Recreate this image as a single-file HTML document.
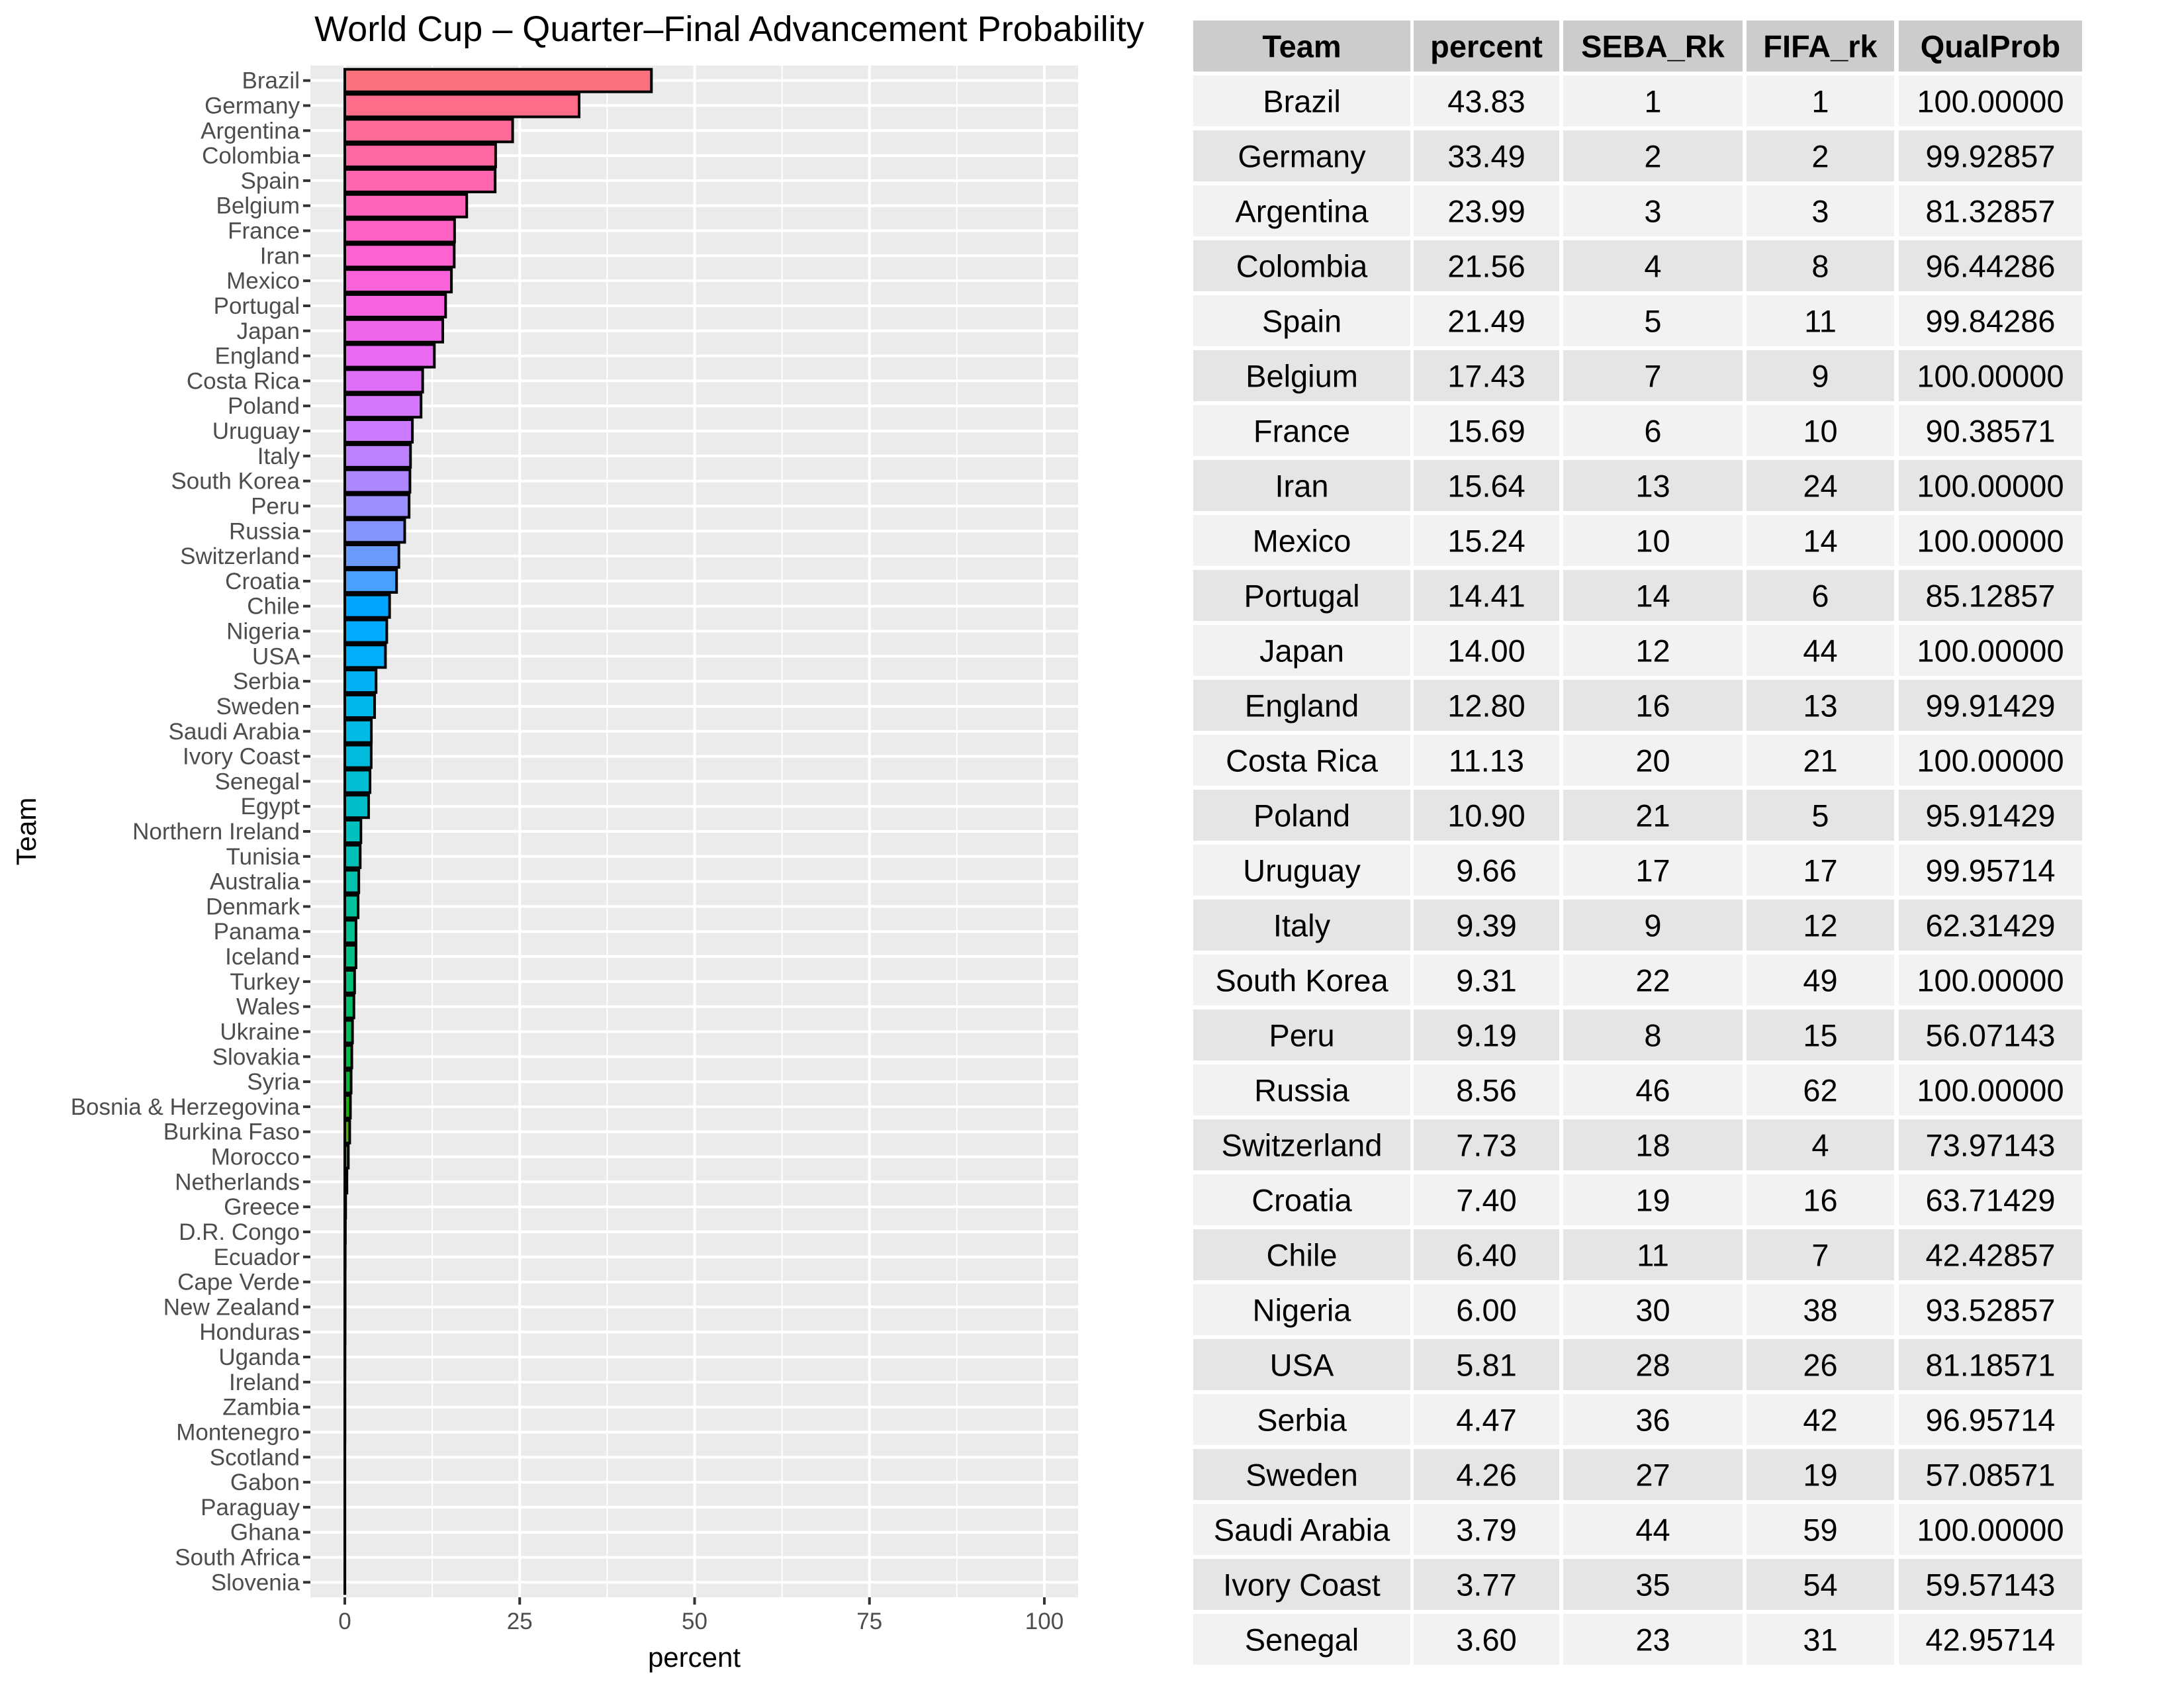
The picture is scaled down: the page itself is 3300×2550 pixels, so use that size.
<!DOCTYPE html>
<html><head><meta charset="utf-8"><style>
body{margin:0;background:#fff;}
svg{display:block;font-family:"Liberation Sans",sans-serif;}
</style></head><body>
<svg id="c" width="3300" height="2550" viewBox="0 0 3300 2550"></svg>
<script>
const teams=["Brazil","Germany","Argentina","Colombia","Spain","Belgium","France","Iran","Mexico","Portugal","Japan","England","Costa Rica","Poland","Uruguay","Italy","South Korea","Peru","Russia","Switzerland","Croatia","Chile","Nigeria","USA","Serbia","Sweden","Saudi Arabia","Ivory Coast","Senegal","Egypt","Northern Ireland","Tunisia","Australia","Denmark","Panama","Iceland","Turkey","Wales","Ukraine","Slovakia","Syria","Bosnia & Herzegovina","Burkina Faso","Morocco","Netherlands","Greece","D.R. Congo","Ecuador","Cape Verde","New Zealand","Honduras","Uganda","Ireland","Zambia","Montenegro","Scotland","Gabon","Paraguay","Ghana","South Africa","Slovenia"];
const percent=[43.83,33.49,23.99,21.56,21.49,17.43,15.69,15.64,15.24,14.41,14.00,12.80,11.13,10.90,9.66,9.39,9.31,9.19,8.56,7.73,7.40,6.40,6.00,5.81,4.47,4.26,3.79,3.77,3.60,3.4,2.3,2.2,2.0,1.9,1.6,1.6,1.4,1.3,1.1,1.0,0.9,0.8,0.7,0.5,0.3,0.12,0.08,0.06,0.05,0.05,0.04,0.03,0.02,0.02,0.02,0.01,0.01,0.01,0.01,0.01,0.01];
const sebaRk=[1,2,3,4,5,7,6,13,10,14,12,16,20,21,17,9,22,8,46,18,19,11,30,28,36,27,44,35,23];
const fifaRk=[1,2,3,8,11,9,10,24,14,6,44,13,21,5,17,12,49,15,62,4,16,7,38,26,42,19,59,54,31];
const qualProb=["100.00000","99.92857","81.32857","96.44286","99.84286","100.00000","90.38571","100.00000","100.00000","85.12857","100.00000","99.91429","100.00000","95.91429","99.95714","62.31429","100.00000","56.07143","100.00000","73.97143","63.71429","42.42857","93.52857","81.18571","96.95714","57.08571","100.00000","59.57143","42.95714"];
const xTicks=[0,25,50,75,100];

const NS="http://www.w3.org/2000/svg";
const svg=document.getElementById('c');
function mk(tag,attrs,parent,text){const e=document.createElementNS(NS,tag);for(const k in attrs)e.setAttribute(k,attrs[k]);if(text!==undefined)e.textContent=text;(parent||svg).appendChild(e);return e;}

function hcl(h,c,l){const hr=h*Math.PI/180;const U=c*Math.cos(hr),V=c*Math.sin(hr);
const Xn=95.047,Yn=100,Zn=108.883;const un=4*Xn/(Xn+15*Yn+3*Zn),vn=9*Yn/(Xn+15*Yn+3*Zn);
const Y=l>8?Yn*Math.pow((l+16)/116,3):Yn*l/903.3;const u=U/(13*l)+un,v=V/(13*l)+vn;
const X=9*Y*u/(4*v),Z=-X/3-5*Y+3*Y/v;const x=X/100,y=Y/100,z=Z/100;
let r=3.2404542*x-1.5371385*y-0.4985314*z,g=-0.9692660*x+1.8760108*y+0.0415560*z,b=0.0556434*x-0.2040259*y+1.0572252*z;
const f=t=>{t=t<=0.0031308?12.92*t:1.055*Math.pow(t,1/2.4)-0.055;return Math.round(Math.max(0,Math.min(1,t))*255);};
return `rgb(${f(r)},${f(g)},${f(b)})`;}

const PL=469,PR=1629,PT=99,PB=2413;
const X0=521,XS=(1578-521)/100;
const xp=v=>X0+v*XS;
const n=teams.length;const step=(PB-PT)/(n-1+1.2);
const yc=i=>PT+0.6*step+i*step;

mk('text',{x:1102,y:62,'font-size':54,'text-anchor':'middle',fill:'#000',},svg,'World Cup \u2013 Quarter\u2013Final Advancement Probability');
mk('rect',{x:PL,y:PT,width:PR-PL,height:PB-PT,fill:'#ebebeb',});
const grid=mk('g',{});
for(let i=0;i<xTicks.length-1;i++){const m=(xTicks[i]+xTicks[i+1])/2;mk('line',{x1:xp(m),x2:xp(m),y1:PT,y2:PB,stroke:'#fff','stroke-width':2},grid);}
xTicks.forEach(t=>mk('line',{x1:xp(t),x2:xp(t),y1:PT,y2:PB,stroke:'#fff','stroke-width':4},grid));
for(let i=0;i<n;i++)mk('line',{x1:PL,x2:PR,y1:yc(i),y2:yc(i),stroke:'#fff','stroke-width':4},grid);
const bars=mk('g',{});
const bh=step*0.9;
for(let i=0;i<n;i++){
  const lvl=n-1-i;const col=hcl(15+360*lvl/n,100,65);
  const r=mk('rect',{x:xp(0),y:yc(i)-bh/2,width:Math.max(0,xp(percent[i])-xp(0)),height:bh,fill:col,stroke:'#000','stroke-width':4},bars);
  
  
  mk('line',{x1:PL-11,x2:PL,y1:yc(i),y2:yc(i),stroke:'#333','stroke-width':4},svg);
  const t=mk('text',{x:PL-16,y:yc(i)+12,'font-size':35,'text-anchor':'end',fill:'#4d4d4d'},svg,teams[i]);
  
  
}
xTicks.forEach(t=>{
  mk('line',{x1:xp(t),x2:xp(t),y1:PB,y2:PB+11,stroke:'#333','stroke-width':4},svg);
  const e=mk('text',{x:xp(t),y:PB+48,'font-size':35,'text-anchor':'middle',fill:'#4d4d4d'},svg,String(t));
  
  
});
mk('text',{x:1049,y:2518,'font-size':42,'text-anchor':'middle',fill:'#000',},svg,'percent');
mk('text',{x:0,y:0,'font-size':42,'text-anchor':'middle',fill:'#000',transform:'translate(54,1256) rotate(-90)',},svg,'Team');

const cols=[[1803,2131],[2136,2356],[2362,2633],[2639,2862],[2869,3146]];
const heads=["Team","percent","SEBA_Rk","FIFA_rk","QualProb"];
const tbl=mk('g',{});
const TT=31,RH=77,RP=83;
heads.forEach((h,j)=>{
  mk('rect',{x:cols[j][0],y:TT,width:cols[j][1]-cols[j][0],height:RH,fill:'#cccccc'},tbl);
  const e=mk('text',{x:(cols[j][0]+cols[j][1])/2,y:TT+RH/2+17,'font-size':47,'font-weight':'bold','text-anchor':'middle',fill:'#000'},tbl,h);
  
  
});
for(let i=0;i<sebaRk.length;i++){
  const y=TT+RP*(i+1);const bg=i%2===0?'#f2f2f2':'#e5e5e5';
  const vals=[teams[i],percent[i].toFixed(2),sebaRk[i],fifaRk[i],qualProb[i]];
  vals.forEach((v,j)=>{
    mk('rect',{x:cols[j][0],y:y,width:cols[j][1]-cols[j][0],height:RH,fill:bg},tbl);
    const e=mk('text',{x:(cols[j][0]+cols[j][1])/2,y:y+RH/2+17,'font-size':47,'text-anchor':'middle',fill:'#000'},tbl,String(v));
    
    
  });
}
</script>
</body></html>
